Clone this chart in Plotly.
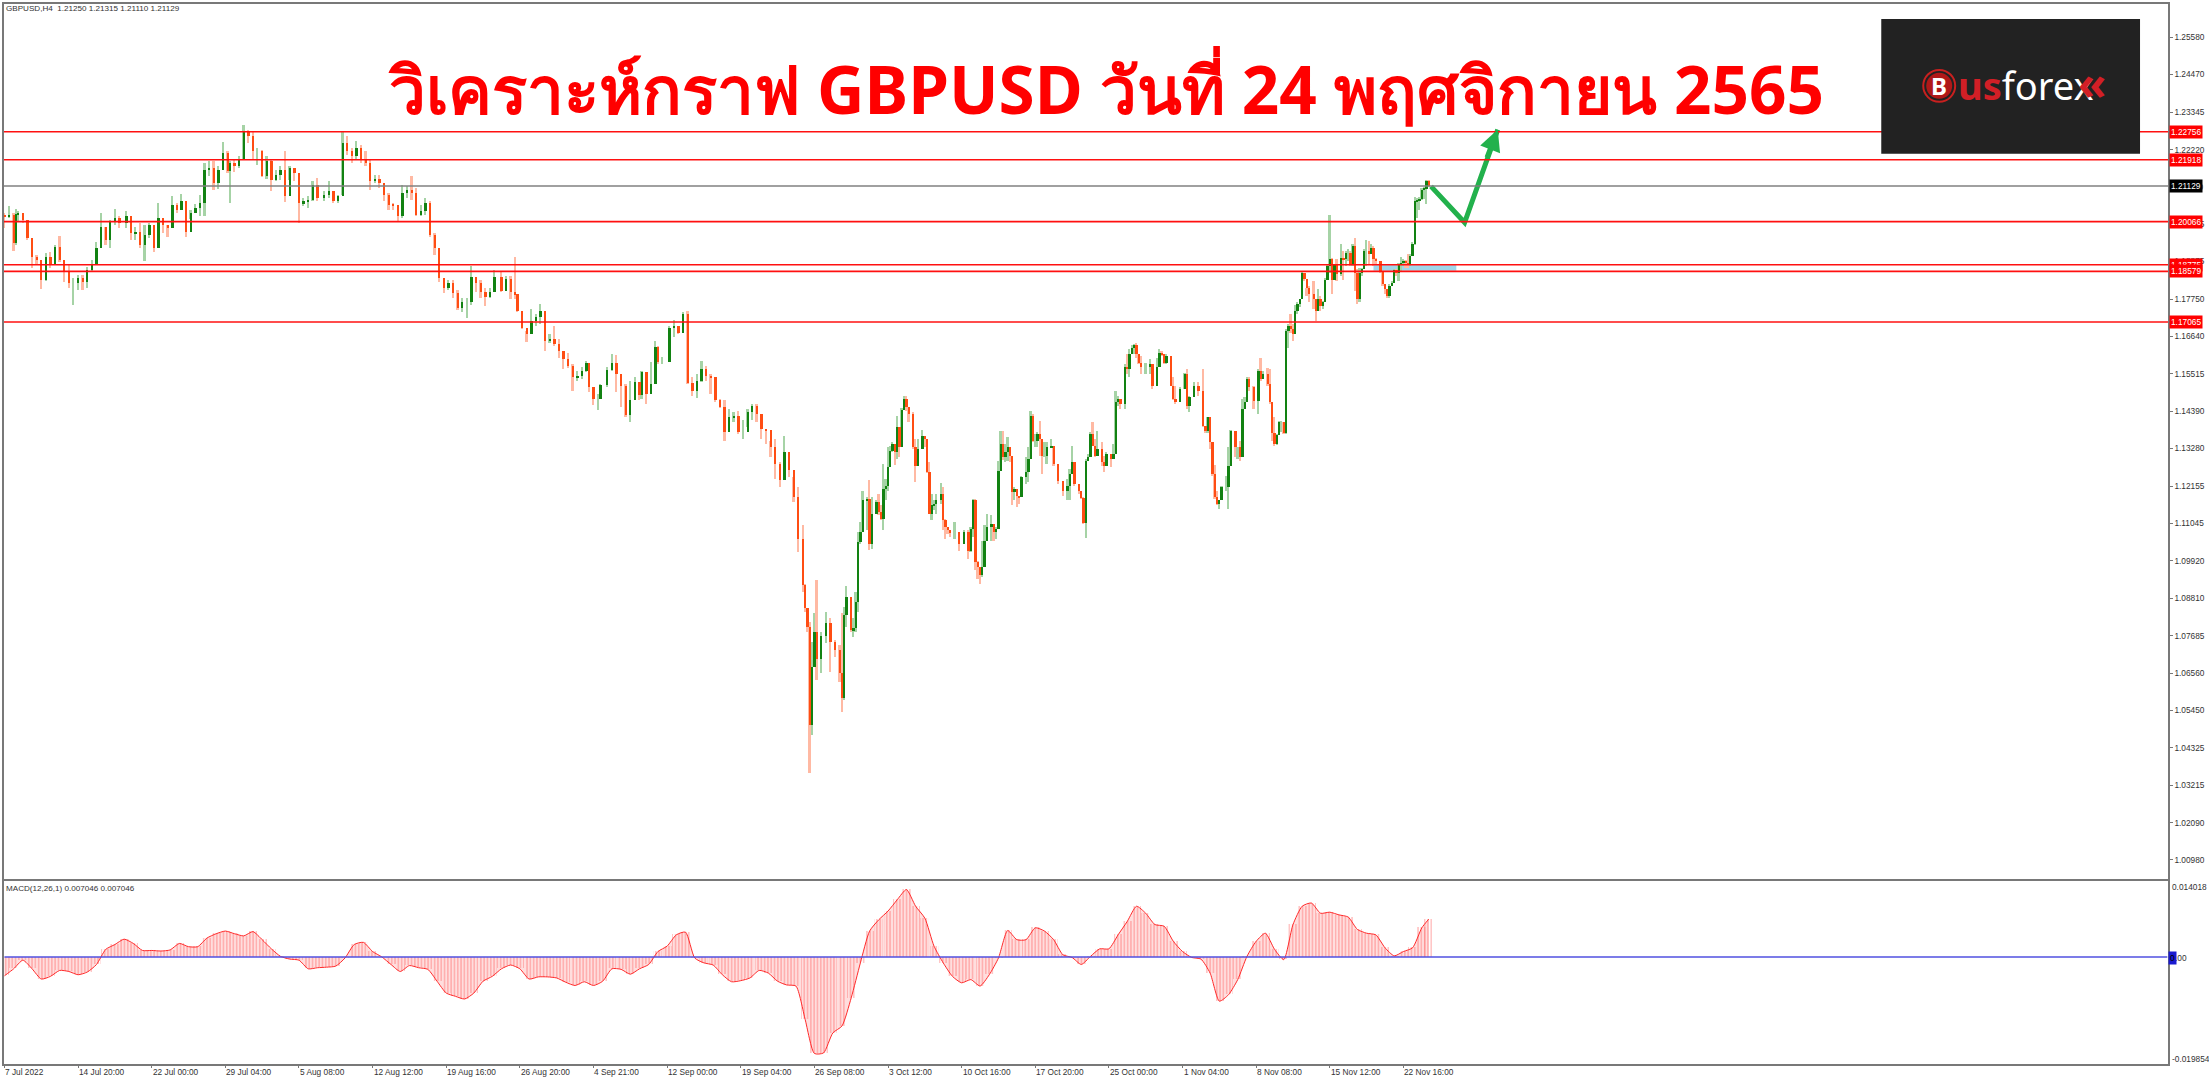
import plotly.graph_objects as go

symbol_header = "GBPUSD,H4  1.21250 1.21315 1.21110 1.21129"
macd_header = "MACD(12,26,1) 0.007046 0.007046"
title_text = "วิเคราะห์กราฟ GBPUSD วันที่ 24 พฤศจิกายน 2565"

# H4 bar numbers counted from 7 Jul 2022; prices in 1/10000
bar_no = [0,2,4,5,6,8,10,12,14,16,18,20,22,24,26,28,30,32,34,36,38,40,42,44,46,48,50,53,55,57,59,61,63,65,67,69,71,73,75,77,79,81,83,85,87,89,91,93,95,97,98,100,102,104,106,108,110,112,114,116,118,120,122,124,126,128,130,132,134,136,139,141,143,145,147,149,151,153,155,157,159,161,163,165,167,169,171,173,175,177,179,181,183,185,187,189,191,193,195,197,199,201,203,205,207,209,211,213,
216,218,220,222,223,225,227,229,231,233,235,237,239,241,243,245,247,249,251,253,254,256,258,259,262,264,266,268,270,272,274,276,277,279,281,283,284,286,289,291,293,295,297,299,301,303,305,307,309,311,313,315,317,319,321,323,325,327,329,331,333,335,337,339,341,343,345,
347,348,349,350,351,352,353,355,357,359,361,363,364,365,366,368,369,370,371,372,
373,375,376,377,379,380,381,382,383,384,385,386,387,388,389,390,391,392,393,395,396,397,399,400,401,402,403,404,405,407,408,409,410,411,413,415,417,419,420,421,422,423,424,425,426,427,429,430,431,432,433,434,435,436,437,438,439,440,441,442,444,445,446,447,448,449,450,451,452,453,455,456,458,460,462,463,464,465,467,468,469,470,471,472,473,474,475,477,478,479,481,482,483,484,485,487,488,489,490,491,492,493,494,496,498,499,501,502,503,504,505,507,508,509,511,513,514,515,517,519,521,522,523,524,525,526,527,528,
529,531,532,533,535,536,537,538,539,540,541,543,545,546,547,549,550,551,552,553,554,555,556,557,558,559,560,561,562,563,564,565,566,567,569,570,571,572,573,574,575,576,577,578,579,581,582,583,584,585,586,587,588,589,590,591,592,593,594,595,596,598,599,600,601,602,603,604,605,606,607,608,609,610,611,612,613,614,615,616,617,618,619]

close_px = [12022,12027,11942,12029,12032,12012,11957,11902,11892,11832,11902,11877,11932,11892,11857,11822,11822,11837,11827,11862,11877,11927,11992,11952,12007,12017,12002,12022,11972,11977,11937,11967,11997,11927,12017,11997,11987,12057,12042,12067,11977,12032,12047,12062,12162,12167,12122,12162,12212,12157,12182,12172,12192,12277,12262,12217,12217,12142,12187,12132,12147,12162,12082,12167,12152,12062,12067,12072,12117,12077,12087,12097,12067,12082,12242,12217,12202,12227,12192,12182,12127,12135,12122,12087,12057,12055,12022,12092,12102,12092,12027,12037,12062,11967,11927,11837,11807,11822,11792,11747,11767,11767,11842,11822,11797,11782,11797,11842,
11800,11835,11795,11790,11740,11690,11670,11710,11720,11740,11650,11655,11640,11620,11595,11575,11541,11546,11561,11583,11511,11477,11477,11517,11563,11583,11551,11516,11427,11472,11527,11487,11556,11491,11521,11633,11586,11586,11690,11695,11675,11730,11524,11499,11531,11566,11546,11541,11472,11452,11377,11421,11426,11377,11377,11436,11456,11431,11387,11382,11332,11283,11233,11317,11263,11183,11058,
10919,10850,10795,10501,10676,10780,10700,10767,10805,10750,10725,10658,10581,10830,10884,10785,10790,10870,11049,11078,
11173,11178,11043,11133,11168,11138,11118,11207,11217,11272,11322,11342,11317,11391,11332,11444,11476,11451,11431,11332,11277,11327,11367,11357,11257,11133,11158,11163,11173,11192,11113,11093,11083,11078,11078,11043,11078,11023,11088,11173,10988,10974,10949,10974,11053,11093,11103,11078,11088,11262,11342,11302,11317,11332,11307,11197,11207,11187,11182,11242,11257,11297,11426,11352,11352,11372,11357,11307,11307,11332,11337,11282,11232,11202,11217,11252,11287,11222,11202,11179,11105,11292,11302,11372,11337,11307,11327,11287,11277,11312,11297,11312,11466,11476,11461,11571,11566,11610,11630,11638,11610,11585,11571,11571,11581,11516,11571,11615,11610,11585,11605,11516,11476,11466,11506,11551,11456,11481,11516,11501,11396,11381,11421,11347,11252,11183,11163,11173,
11212,11212,11277,11381,11332,11332,11302,11446,11466,11536,11511,11471,11561,11536,11551,11521,11466,11376,11342,11369,11406,11406,11376,11680,11695,11685,11670,11740,11760,11774,11854,11834,11807,11789,11774,11740,11774,11755,11765,11831,11874,11894,11831,11879,11849,11899,11894,11914,11914,11879,11934,11854,11774,11854,11864,11919,11919,11909,11929,11894,11889,11859,11819,11804,11784,11814,11824,11861,11854,11879,11884,11889,11884,11879,11904,11941,12067,12069,12075,12102,12105,12127,12113]

high_px = [12032,12052,12032,12045,12037,12032,11992,11942,11907,11882,11912,11917,11937,11964,11889,11877,11837,11847,11847,11872,11892,11947,12032,11992,12012,12045,12022,12037,12007,11992,12002,11997,12002,11977,12062,12007,11997,12082,12062,12089,12047,12042,12059,12087,12182,12187,12189,12172,12245,12217,12187,12192,12202,12295,12282,12277,12227,12222,12202,12192,12162,12172,12217,12172,12167,12147,12077,12082,12127,12137,12097,12129,12087,12087,12275,12262,12227,12249,12237,12217,12192,12147,12147,12122,12092,12062,12057,12117,12112,12142,12107,12057,12077,12067,11972,11912,11832,11832,11832,11802,11777,11777,11875,11837,11832,11807,11807,11862,
11855,11845,11845,11902,11780,11735,11680,11745,11730,11760,11720,11670,11695,11655,11620,11615,11580,11560,11571,11591,11583,11491,11491,11522,11571,11611,11609,11521,11521,11531,11541,11527,11561,11556,11586,11651,11636,11601,11695,11712,11695,11735,11740,11541,11551,11591,11576,11551,11536,11477,11472,11446,11436,11441,11412,11446,11461,11461,11407,11387,11352,11357,11288,11367,11278,11243,11213,
11098,10924,10850,10810,10750,10835,10934,10780,10840,10820,10755,10740,10835,10855,10916,10835,10820,10899,11078,11108,
11202,11183,11234,11183,11173,11192,11158,11282,11237,11332,11337,11347,11342,11426,11391,11449,11486,11486,11451,11436,11357,11357,11383,11367,11332,11287,11192,11173,11192,11224,11214,11118,11093,11083,11108,11073,11083,11083,11093,11178,11178,10993,10969,11053,11098,11133,11128,11103,11093,11292,11381,11381,11342,11364,11332,11307,11212,11207,11187,11247,11302,11332,11439,11431,11372,11377,11411,11357,11347,11347,11357,11337,11282,11232,11237,11267,11337,11287,11222,11202,11183,11297,11312,11377,11406,11357,11381,11347,11307,11317,11307,11342,11499,11486,11476,11581,11610,11625,11638,11642,11645,11610,11605,11585,11595,11581,11600,11625,11620,11605,11610,11580,11541,11516,11513,11553,11566,11486,11526,11526,11566,11396,11423,11421,11347,11280,11202,11173,
11217,11247,11332,11383,11337,11334,11352,11476,11481,11541,11541,11516,11566,11600,11561,11570,11565,11461,11421,11372,11411,11411,11406,11685,11700,11730,11700,11758,11765,11776,11856,11854,11809,11814,11829,11774,11804,11784,11770,11837,11879,12026,11899,11880,11894,11941,11919,11919,11924,11919,11939,11959,11864,11869,11869,11924,11951,11949,11939,11934,11899,11889,11859,11819,11804,11819,11829,11864,11864,11884,11901,11894,11891,11909,11909,11947,12079,12077,12079,12107,12109,12132,12132]

low_px = [11989,12017,11919,11937,12007,12002,11952,11867,11877,11805,11829,11867,11897,11887,11827,11807,11757,11802,11802,11807,11857,11897,11942,11937,11927,11997,11987,11987,11952,11952,11927,11889,11957,11917,11937,11972,11962,11987,12032,12047,11962,12015,12032,12022,12022,12142,12102,12105,12162,12152,12062,12155,12167,12192,12242,12192,12177,12139,12135,12097,12127,12132,12065,12132,12127,12002,12052,12047,12067,12067,12067,12077,12062,12062,12087,12207,12182,12192,12182,12172,12102,12122,12107,12067,12042,12042,12007,12017,12077,12072,12022,12022,12027,11962,11907,11827,11792,11802,11777,11742,11737,11717,11757,11797,11777,11755,11777,11797,
11795,11800,11775,11775,11735,11685,11648,11690,11695,11700,11620,11645,11635,11600,11566,11570,11500,11531,11536,11556,11496,11457,11444,11477,11511,11561,11496,11452,11422,11407,11502,11472,11477,11462,11516,11551,11581,11581,11601,11661,11670,11680,11521,11484,11479,11526,11531,11491,11467,11449,11350,11382,11407,11372,11357,11392,11412,11407,11357,11342,11302,11238,11213,11273,11243,11168,11020,
10899,10840,10780,10357,10472,10676,10636,10656,10745,10661,10705,10631,10541,10576,10795,10780,10763,10780,10840,11044,
11078,11083,11025,11028,11138,11128,11113,11085,11173,11202,11272,11317,11280,11297,11302,11332,11451,11441,11406,11327,11227,11297,11332,11332,11255,11131,11113,11143,11133,11163,11083,11058,11073,11063,11058,11023,11048,10998,11018,11063,10964,10939,10924,10944,11023,11053,11053,11053,11058,11153,11262,11294,11287,11292,11287,11158,11173,11153,11163,11212,11222,11227,11297,11347,11332,11332,11307,11252,11302,11282,11332,11277,11222,11187,11173,11173,11252,11217,11192,11178,11103,11061,11292,11302,11335,11302,11307,11277,11257,11277,11272,11297,11312,11456,11446,11446,11551,11543,11610,11610,11600,11580,11551,11551,11551,11506,11521,11571,11605,11580,11580,11514,11474,11461,11466,11506,11446,11436,11486,11486,11391,11376,11376,11327,11247,11178,11158,11148,
11192,11202,11148,11277,11302,11297,11292,11302,11446,11466,11501,11446,11431,11531,11536,11516,11461,11352,11337,11340,11372,11377,11372,11372,11630,11675,11650,11670,11730,11750,11774,11829,11784,11765,11745,11710,11740,11740,11745,11765,11831,11854,11789,11847,11829,11844,11831,11874,11889,11874,11874,11799,11760,11765,11844,11864,11874,11879,11909,11874,11879,11854,11814,11789,11779,11779,11814,11824,11844,11829,11859,11874,11869,11869,11874,11904,11937,12019,12042,12072,12075,12059,12111]

# MACD, one reading every four H4 bars, last reading on bar 619; in 1/10000
macd_bar = list(range(0, 620, 4)) + [619]
macd_val = [-35,-22,-6,-22,-41,-36,-25,-27,-33,-28,-14,14,23,33,25,12,12,11,13,25,19,19,35,43,48,43,39,47,32,15,1,-4,-6,-22,-20,-19,-17,-2,23,27,10,0,-14,-27,-16,-20,-23,-45,-67,-73,-78,-67,-45,-36,-22,
-15,-22,-41,-37,-37,-39,-47,-53,-46,-53,-45,-22,-23,-32,-22,-14,10,20,41,46,-2,-11,-15,-33,-46,-44,-39,-25,-30,-45,-52,-54,-116,-179,-178,-141,-128,-76,-11,48,69,85,106,125,94,72,20,-11,-36,-48,-42,-54,
-33,-2,49,32,32,54,48,32,4,-1,-14,1,15,15,41,66,94,81,60,57,29,10,-1,-4,-30,-82,-70,-42,1,29,44,14,-5,60,94,100,81,83,78,74,51,44,41,17,2,10,17,54,70]

level_prices = [1.22756, 1.21918, 1.20066, 1.18775, 1.18579, 1.17065]
last_price = 1.21129
y_ticks = [1.25580,1.24470,1.23345,1.22220,1.21110,1.19985,1.18875,1.17750,1.16640,1.15515,1.14390,1.13280,1.12155,1.11045,1.09920,1.08810,1.07685,1.06560,1.05450,1.04325,1.03215,1.02090,1.00980]
date_labels = ["7 Jul 2022","14 Jul 20:00","22 Jul 00:00","29 Jul 04:00","5 Aug 08:00","12 Aug 12:00","19 Aug 16:00","26 Aug 20:00","4 Sep 21:00","12 Sep 00:00","19 Sep 04:00","26 Sep 08:00","3 Oct 12:00","10 Oct 16:00","17 Oct 20:00","25 Oct 00:00","1 Nov 04:00","8 Nov 08:00","15 Nov 12:00","22 Nov 16:00"]
date_bars = [32 * i for i in range(len(date_labels))]
path_bars = [620, 634.6, 649]
path_prices = [1.2112, 1.2004, 1.2282]
zone_bars = [595, 631]
zone_prices = [1.1878, 1.1860]
macd_range = [-0.019854, 0.014018]

W, H = 2209, 1080
L, R, T, B = 2, 2168, 2, 1064
def px(x): return (x - L) / (R - L)
def py(y): return (B - y) / (B - T)

UP, DOWN, UP_W, DOWN_W = "#128212", "#ff4d13", "#a6d3a6", "#ffb9a3"
FONT = "Liberation Sans"

opens = [close_px[0] + 5] + close_px[:-1]
fig = go.Figure()
# wicks first, so that the bodies lie on top of them
fig.add_trace(go.Bar(x=bar_no, y=[(h - l) / 1e4 for h, l in zip(high_px, low_px)], base=[l / 1e4 for l in low_px],
                     marker=dict(color=[UP_W if c >= o else DOWN_W for o, c in zip(opens, close_px)], line=dict(width=0)),
                     width=0.75, hoverinfo="skip", showlegend=False))
fig.add_trace(go.Bar(x=bar_no, y=[abs(c - o) / 1e4 for o, c in zip(opens, close_px)],
                     base=[min(o, c) / 1e4 for o, c in zip(opens, close_px)],
                     marker=dict(color=[UP if c >= o else DOWN for o, c in zip(opens, close_px)], line=dict(width=0)),
                     width=1.0, hoverinfo="skip", showlegend=False))
fig.add_trace(go.Scatter(x=path_bars, y=path_prices, mode="lines", line=dict(color="#22b14c", width=5),
                         hoverinfo="skip", showlegend=False))

macd = [v / 1e4 for v in macd_val]
fig.add_trace(go.Bar(x=macd_bar, y=macd, width=3.9, xaxis="x2", yaxis="y2", hoverinfo="skip", showlegend=False,
                     marker=dict(color="rgba(255,255,255,0)", line=dict(width=0),
                                 pattern=dict(shape="|", size=3.3, solidity=0.4, fgcolor="#ff7070", bgcolor="rgba(255,255,255,0)"))))
fig.add_trace(go.Scatter(x=macd_bar, y=macd, mode="lines", fill="tozeroy", fillcolor="rgba(255,90,90,0.2)",
                         line=dict(color="#ff2a2a", width=1, shape="spline", smoothing=0.6), xaxis="x2", yaxis="y2", hoverinfo="skip", showlegend=False))
fig.add_trace(go.Scatter(x=[0, 940], y=[0, 0], mode="lines", line=dict(color="#5050e0", width=1.5),
                         xaxis="x2", yaxis="y2", hoverinfo="skip", showlegend=False))

shapes = [dict(type="rect", xref="x", yref="y", x0=zone_bars[0], x1=zone_bars[1], y0=zone_prices[1], y1=zone_prices[0],
               fillcolor="#9fd6ea", line=dict(width=0), layer="below")]
for p in level_prices:
    shapes.append(dict(type="line", xref="x domain", yref="y", x0=0, x1=1, y0=p, y1=p, line=dict(color="#ff1010", width=1.6)))
shapes.append(dict(type="line", xref="x domain", yref="y", x0=0, x1=1, y0=last_price, y1=last_price, line=dict(color="#808080", width=1.5)))
# logo block
shapes.append(dict(type="rect", xref="paper", yref="paper", x0=px(1881), x1=px(2140), y0=py(152), y1=py(17), fillcolor="#222222", line=dict(width=0)))
shapes.append(dict(type="circle", xref="paper", yref="paper", x0=px(1926), x1=px(1952), y0=py(97), y1=py(71), fillcolor="#b01818", line=dict(width=0)))
shapes.append(dict(type="circle", xref="paper", yref="paper", x0=px(1923), x1=px(1955), y0=py(100), y1=py(68), fillcolor="rgba(0,0,0,0)", line=dict(color="#c8201f", width=2)))

ann = []
def note(text, x, y, size, color="#333333", xa="left", ya="middle", bg=None, bold=False, family=FONT, pad=0):
    d = dict(xref="paper", yref="paper", x=px(x), y=py(y), text=("<b>%s</b>" % text) if bold else text, showarrow=False,
             xanchor=xa, yanchor=ya, font=dict(size=size, color=color, family=family), borderpad=pad)
    if bg:
        d["bgcolor"] = bg
    ann.append(d)

note(title_text, 1105, 113 + 19, 65.6, color="#ff0000", xa="center", ya="bottom", bold=True, family="Noto Sans, sans-serif")
note(symbol_header, 3, 7, 8.1)
note(macd_header, 3, 888, 8.1)
note("B", 1939, 84, 24, color="#ffffff", xa="center", bold=True, family="Noto Sans")
note('<span style="color:#d21f26"><b>us</b></span>forex', 1957, 83, 38, color="#ffffff", family="Noto Sans")
note("<b>«</b>", 2077, 80, 46, color="#d21f26", family="Noto Sans")
note("0.014018", 2171, 887, 8.3)
note("-0.019854", 2171, 1059, 8.3)
note(".00", 2174, 958, 8.3)
note("0", 2168.5, 958, 8.3, bg="#1a1ad0", color="#000000", pad=1)
for p in level_prices:
    ann.append(dict(xref="paper", yref="y", x=px(2169), y=p, text="%.5f" % p, showarrow=False, xanchor="left", yanchor="middle",
                    font=dict(size=8.3, color="#ffffff", family=FONT), bgcolor="#ff0000", borderpad=1))
ann.append(dict(xref="paper", yref="y", x=px(2169), y=last_price, text="%.5f" % last_price, showarrow=False, xanchor="left", yanchor="middle",
                font=dict(size=8.3, color="#ffffff", family=FONT), bgcolor="#000000", borderpad=1))
for b, t in zip(date_bars, date_labels):
    ann.append(dict(xref="x2", yref="paper", x=b, y=py(1066), text=t, showarrow=False, xanchor="left", yanchor="top",
                    font=dict(size=8.3, color="#333333", family=FONT), borderpad=0))
ann.append(dict(xref="x", yref="y", x=path_bars[2], y=path_prices[2], ax=path_bars[1] + 9.5, ay=path_prices[1] + 0.019, axref="x", ayref="y",
                showarrow=True, arrowhead=2, arrowsize=0.85, arrowwidth=5, arrowcolor="#22b14c", text=""))

AX = "#787878"
rng = [-0.2, 940.3]
fig.update_layout(
    width=W, height=H, autosize=False, paper_bgcolor="#ffffff", plot_bgcolor="#ffffff", barmode="overlay", bargap=0,
    margin=dict(l=L, r=W - R, t=T, b=H - B), showlegend=False, shapes=shapes, annotations=ann,
    font=dict(family=FONT, size=8.3, color="#333333"),
    xaxis=dict(domain=[0, 1], range=rng, anchor="y", showgrid=False, zeroline=False, showticklabels=False, ticks="",
               showline=True, linecolor=AX, linewidth=1.5, mirror=True),
    yaxis=dict(domain=[py(879), 1], range=[1.00396, 1.26575], side="right", anchor="x", autorange=False, showgrid=False, zeroline=False,
               tickvals=y_ticks, ticktext=["%.5f" % v for v in y_ticks], ticks="outside", ticklen=3, tickcolor=AX,
               tickfont=dict(size=8.3, color="#333333", family=FONT), showline=True, linecolor=AX, linewidth=1.5, mirror=True),
    xaxis2=dict(domain=[0, 1], range=rng, anchor="y2", showgrid=False, zeroline=False, tickvals=date_bars, showticklabels=False,
                ticks="outside", ticklen=2, tickcolor=AX, showline=True, linecolor=AX, linewidth=1.5, mirror=True),
    yaxis2=dict(domain=[0, py(881)], range=macd_range, side="right", anchor="x2", showgrid=False, zeroline=False, showticklabels=False,
                ticks="", showline=True, linecolor=AX, linewidth=1.5, mirror=True),
)
fig.write_html("out.html", config=dict(displayModeBar=False),
               post_script="document.body.style.margin='0';document.body.style.overflow='hidden';")
